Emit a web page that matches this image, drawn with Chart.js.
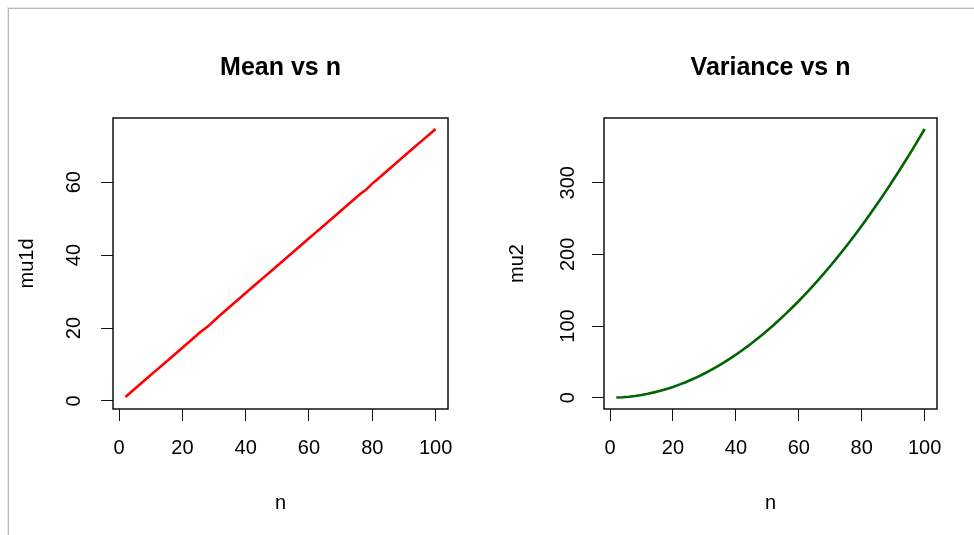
<!DOCTYPE html>
<html>
<head>
<meta charset="utf-8">
<script src="https://cdn.jsdelivr.net/npm/chart.js@4/dist/chart.umd.min.js"></script>
<style>
  html, body { margin: 0; padding: 0; background: #fff; }
  body { width: 974px; height: 535px; position: relative; overflow: hidden; }
  .frame { position: absolute; left: 7px; top: 7px; width: 980px; height: 540px;
           border-top: 1px solid #e8e8e8; border-left: 1px solid #e8e8e8; }
  .frame div { position: absolute; left: 0; top: 0; width: 100%; height: 100%;
               border-top: 1px solid #b8b8b8; border-left: 1px solid #b8b8b8; }
  canvas { position: absolute; top: 0; }
</style>
</head>
<body>
<div class="frame"><div></div></div>
<canvas id="meanChart" width="487" height="535" style="left:0"></canvas>
<canvas id="varChart" width="487" height="535" style="left:487px"></canvas>
<script>
// values (n = 2, 4, ..., 100)
const nVals = [2, 4, 6, 8, 10, 12, 14, 16, 18, 20, 22, 24, 26, 28, 30, 32, 34, 36, 38, 40,
  42, 44, 46, 48, 50, 52, 54, 56, 58, 60, 62, 64, 66, 68, 70, 72, 74, 76, 78, 80,
  82, 84, 86, 88, 90, 92, 94, 96, 98, 100];
const meanVals = [1.1, 2.6, 4.1, 5.6, 7.1, 8.6, 10.1, 11.6, 13.1, 14.6, 16.1, 17.6, 19.1, 20.4, 22.0, 23.6, 25.1, 26.6, 28.1, 29.6,
  31.1, 32.6, 34.1, 35.6, 37.1, 38.6, 40.1, 41.6, 43.1, 44.6, 46.1, 47.6, 49.1, 50.6, 52.1, 53.6, 55.1, 56.6, 57.9, 59.6,
  61.1, 62.6, 64.1, 65.6, 67.1, 68.6, 70.1, 71.6, 73.1, 74.6];
const varVals = [0.2, 0.6, 1.4, 2.4, 3.8, 5.4, 7.4, 9.6, 12.2, 15.0, 18.2, 21.6, 25.4, 29.4, 33.8, 38.4, 43.4, 48.6, 54.2, 60.0,
  66.2, 72.6, 79.4, 86.4, 93.8, 101.4, 109.4, 117.6, 126.2, 135.0, 144.2, 153.6, 163.4, 173.4, 183.8, 194.4, 205.4, 216.6, 228.2, 240.0,
  252.2, 264.6, 277.4, 290.4, 303.8, 317.4, 331.4, 345.6, 360.2, 375.0];

const xTicks = [0, 20, 40, 60, 80, 100];
const meanTicks = [0, 20, 40, 60];
const varTicks = [0, 100, 200, 300];

const FONT = "'Liberation Sans', Arial, sans-serif";

// R-style box around the plot region plus the bold main title
const boxTitle = {
  id: 'boxTitle',
  afterDatasetsDraw(chart, args, opts) {
    const { ctx, chartArea: a } = chart;
    ctx.save();
    ctx.strokeStyle = '#111';
    ctx.lineWidth = 1.5;
    ctx.strokeRect(a.left, a.top, a.right - a.left, a.bottom - a.top);
    ctx.fillStyle = '#000';
    ctx.font = 'bold 25px ' + FONT;
    ctx.textAlign = 'center';
    ctx.textBaseline = 'alphabetic';
    ctx.fillText(opts.text, (a.left + a.right) / 2, 75);
    ctx.restore();
  }
};

function rPlot(canvasId, xs, ys, color, title, yLabel, yTicks, yMin, yMax, yWidth, rightPad, yTickPad, yTitlePad) {
  const ctx = document.getElementById(canvasId);
  const pts = xs.map((x, i) => ({ x, y: ys[i] }));
  return new Chart(ctx, {
    type: 'line',
    data: { datasets: [{ data: pts, borderColor: color, borderWidth: 2.6, pointRadius: 0, tension: 0, fill: false }] },
    plugins: [boxTitle],
    options: {
      responsive: false,
      animation: false,
      layout: { padding: { top: 118, right: rightPad, bottom: 0, left: 0 } },
      plugins: { legend: { display: false }, tooltip: { enabled: false }, boxTitle: { text: title } },
      scales: {
        x: {
          type: 'linear', min: -1.92, max: 103.92,
          afterBuildTicks: s => { s.ticks = xTicks.map(v => ({ value: v })); },
          afterFit: s => { s.height = 126; },
          grid: { drawOnChartArea: false, drawTicks: true, tickLength: 12, color: '#111', lineWidth: 1 },
          border: { display: false },
          ticks: { padding: 15, color: '#000', font: { family: FONT, size: 20 }, maxRotation: 0, autoSkip: false },
          title: { display: true, text: 'n', color: '#000', font: { family: FONT, size: 20 }, padding: { top: 0, bottom: 20 } }
        },
        y: {
          type: 'linear', min: yMin, max: yMax,
          afterBuildTicks: s => { s.ticks = yTicks.map(v => ({ value: v })); },
          afterFit: s => { s.width = yWidth; },
          grid: { drawOnChartArea: false, drawTicks: true, tickLength: 12, color: '#111', lineWidth: 1 },
          border: { display: false },
          ticks: { padding: yTickPad, color: '#000', font: { family: FONT, size: 20 },
                   minRotation: 90, maxRotation: 90, crossAlign: 'center', autoSkip: false },
          title: { display: true, text: yLabel, color: '#000', font: { family: FONT, size: 20 }, padding: { top: yTitlePad, bottom: 0 } }
        }
      }
    }
  });
}

rPlot('meanChart', nVals, meanVals, '#ff0000', 'Mean vs n', 'mu1d', meanTicks, -2.2, 77.6, 113, 39, 15, 15);
rPlot('varChart', nVals, varVals, '#006400', 'Variance vs n', 'mu2', varTicks, -15.8, 390.4, 117, 37, 7, 18);
</script>
</body>
</html>
